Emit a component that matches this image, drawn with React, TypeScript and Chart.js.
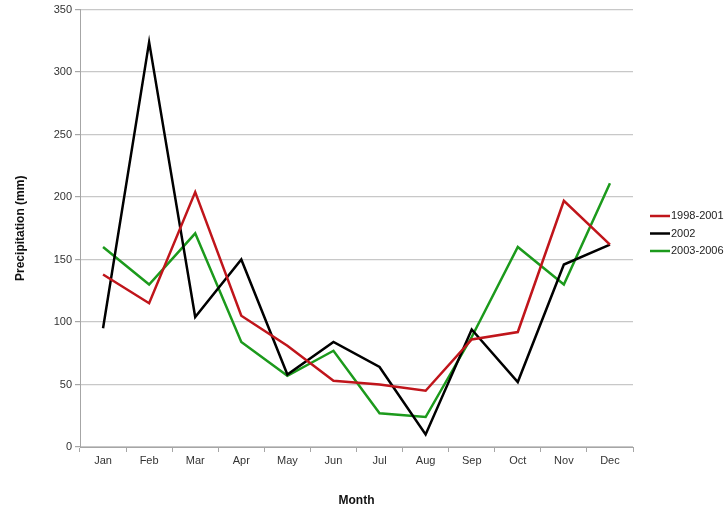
import React, { useEffect, useRef } from "react";
import { Chart, registerables } from "chart.js";

Chart.register(...registerables);

const months = ["Jan", "Feb", "Mar", "Apr", "May", "Jun", "Jul", "Aug", "Sep", "Oct", "Nov", "Dec"];
const seriesNames = ["1998-2001", "2002", "2003-2006"];
const values1998to2001 = [138, 115, 204, 105, 81, 53, 50, 45, 86, 92, 197, 162];
const values2002 = [95, 324, 104, 150, 58, 84, 64, 10, 94, 52, 146, 162];
const values2003to2006 = [160, 130, 171, 84, 57, 77, 27, 24, 88, 160, 130, 211];
const yMin = 0;
const yMax = 350;
const yStep = 50;

const seriesColors = ["#c0151b", "#000000", "#1c9a1c"];

const FONT = "'Liberation Sans', Arial, sans-serif";

const sideLegend = {
  id: "sideLegend",
  afterDraw(chart: any) {
    const ctx = chart.ctx;
    const area = chart.chartArea;
    const x0 = area.right + 17;
    const lineLen = 20;
    const step = 17.5;
    const n = chart.data.datasets.length;
    const yStart = 233.5 - ((n - 1) * step) / 2;
    ctx.save();
    ctx.font = `11px ${FONT}`;
    ctx.textBaseline = "middle";
    ctx.textAlign = "left";
    chart.data.datasets.forEach((ds: any, i: number) => {
      const y = yStart + i * step;
      ctx.strokeStyle = ds.borderColor;
      ctx.lineWidth = 2.5;
      ctx.beginPath();
      ctx.moveTo(x0, y);
      ctx.lineTo(x0 + lineLen, y);
      ctx.stroke();
      ctx.fillStyle = "#222";
      ctx.fillText(ds.label, x0 + lineLen + 1, y);
    });
    ctx.restore();
  },
};

export default function App() {
  const ref = useRef<HTMLCanvasElement | null>(null);

  useEffect(() => {
    document.body.style.margin = "0";
    if (!ref.current) return;
    const allValues = [values1998to2001, values2002, values2003to2006];
    const chart = new Chart(ref.current, {
      type: "line",
      data: {
        labels: months,
        datasets: allValues.map((vals, i) => ({
          label: seriesNames[i],
          data: vals,
          borderColor: seriesColors[i],
          backgroundColor: seriesColors[i],
          borderWidth: 2.5,
          pointRadius: 0,
          tension: 0,
          fill: false,
        })),
      },
      options: {
        animation: false,
        responsive: false,
        devicePixelRatio: 1,
        layout: { padding: { top: 6, right: 92, left: 0, bottom: 0 } },
        plugins: {
          legend: { display: false },
          tooltip: { enabled: false },
        },
        scales: {
          x: {
            offset: true,
            grid: {
              offset: true,
              drawOnChartArea: false,
              drawTicks: true,
              tickLength: 5,
              color: "#a6a6a6",
            },
            border: { color: "#a6a6a6", width: 1 },
            ticks: {
              color: "#333",
              font: { family: FONT, size: 11 },
              padding: 2,
              maxRotation: 0,
            },
            title: {
              display: true,
              text: "Month",
              color: "#111",
              font: { family: FONT, size: 12, weight: "bold" },
              padding: { top: 0, bottom: 4 },
            },
            afterFit(scale: any) {
              scale.height = 65;
            },
          },
          y: {
            min: yMin,
            max: yMax,
            ticks: {
              stepSize: yStep,
              color: "#333",
              font: { family: FONT, size: 11 },
              padding: 3,
            },
            grid: {
              color: "#c8c8c8",
              lineWidth: 1.2,
              tickLength: 5,
              tickColor: "#a6a6a6",
            },
            border: { color: "#a6a6a6", width: 1 },
            title: {
              display: true,
              text: "Precipitation (mm)",
              color: "#111",
              font: { family: FONT, size: 12, weight: "bold" },
              padding: { top: 13, bottom: 0 },
            },
            afterFit(scale: any) {
              scale.width = 80;
            },
          },
        },
      },
      plugins: [sideLegend],
    });
    return () => chart.destroy();
  }, []);

  return (
    <div style={{ position: "absolute", left: 0, top: 0, width: 725, height: 512, background: "#fff" }}>
      <canvas ref={ref} width={725} height={512} style={{ width: 725, height: 512, display: "block" }} />
    </div>
  );
}
